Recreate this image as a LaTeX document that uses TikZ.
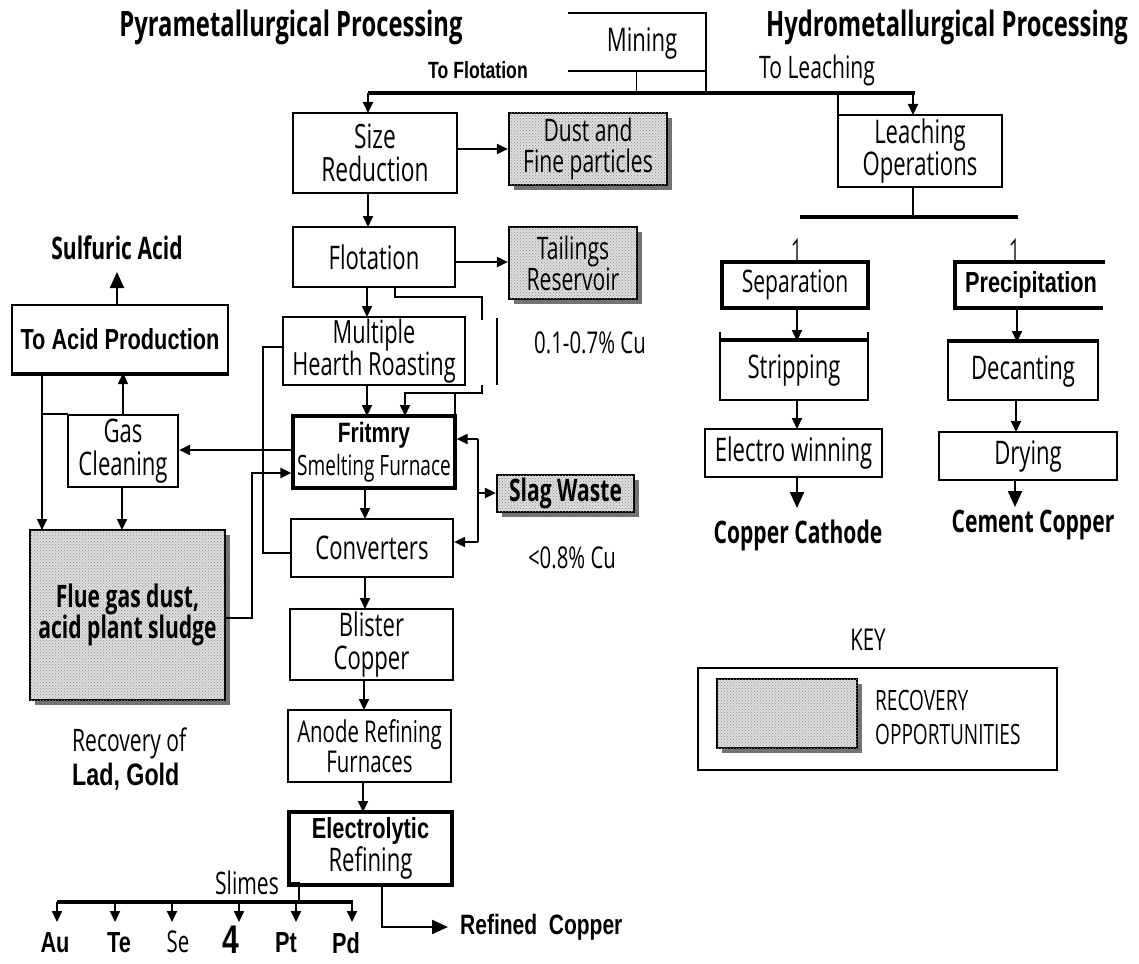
\documentclass[tikz,border=0pt]{standalone}
\usepackage{fontspec}
\setmainfont{Liberation Sans}
\newfontfamily\cm[FakeStretch=0.68]{Open Sans}
\newfontfamily\ar[FakeStretch=0.75]{Liberation Sans}
\usetikzlibrary{arrows.meta,shadows,patterns}
\newcommand{\fs}[1]{\fontsize{#1}{#1}\selectfont}
\tikzset{
  box/.style={draw, line width=2.2pt, inner sep=0pt, align=center, font=\cm\fs{32.5}},
  thickbox/.style={box, line width=3.2pt},
  shaded/.style={box, fill=black!13, postaction={pattern=crosshatch dots, pattern color=black!45},
    drop shadow={shadow xshift=5pt, shadow yshift=-5pt, fill=black!55, opacity=1}},
  arr/.style={line width=2pt, -{Triangle[length=11pt,width=10pt]}},
  bigarr/.style={line width=2.2pt, -{Triangle[length=16pt,width=14pt]}},
  ln/.style={line width=2pt},
  bus/.style={line width=4pt},
  lbl/.style={inner sep=0pt, align=center},
}
\begin{document}
\begin{tikzpicture}[x=1pt,y=-1pt]
\useasboundingbox (0,0) rectangle (1139,963);
% titles
\node[lbl, font=\cm\bfseries\fs{35}] (t1) at (291,27) {Pyrametallurgical Processing};
\node[lbl, font=\cm\bfseries\fs{35}] (t2) at (947,27) {Hydrometallurgical Processing};
% mining
\node[lbl, font=\cm\fs{32.5}] (mining) at (642,43) {Mining};
\draw[line width=2.8pt] (568,13) -- (706,13) -- (706,95);
\draw[line width=2.8pt] (568,71) -- (706,71);
\draw[line width=1pt] (636,71) -- (636,93);
\node[lbl, font=\ar\bfseries\fs{23.5}] (toflot) at (478,70) {To Flotation};
\node[lbl, font=\cm\fs{31}] (toleach) at (817,70) {To Leaching};
\draw[bus] (368,93) -- (915,93);
% pyro boxes
\node[box, minimum width=164pt, minimum height=80pt, font=\cm\fs{33.5}] (sizered) at (375,153) {Size\\Reduction};
\node[shaded, minimum width=158pt, minimum height=72pt, font=\cm\fs{31}] (dust) at (588,149) {Dust and\\Fine particles};
\node[box, minimum width=162pt, minimum height=60pt] (flot) at (374,257) {Flotation};
\node[shaded, minimum width=128pt, minimum height=72pt, font=\cm\fs{31}] (tail) at (573,263) {Tailings\\Reservoir};
\node[box, minimum width=182pt, minimum height=68pt, font=\cm\fs{32}] (mhr) at (374,351) {Multiple\\Hearth Roasting};
\node[thickbox, minimum width=162pt, minimum height=72pt] (frit) at (374,452) {{\ar\bfseries\fs{28}Fritmry}\\[1pt]{\cm\fs{28}Smelting Furnace}};
\node[box, minimum width=110pt, minimum height=72pt, font=\cm\fs{32.5}] (gas) at (123,451) {Gas\\Cleaning};
\node[box, minimum width=216pt, minimum height=68pt, font=\ar\bfseries\fs{29}] (acid) at (120,339) {To Acid Production};
\draw[line width=4pt] (acid.south west) -- (acid.south east);
\node[shaded, minimum width=195pt, minimum height=170pt, font=\cm\bfseries\fs{31}] (flue) at (127.5,615) {Flue gas dust,\\acid plant sludge};
\node[shaded, minimum width=137pt, minimum height=37pt, font=\cm\bfseries\fs{31}] (slag) at (565.5,493.5) {Slag Waste};
\node[box, minimum width=162pt, minimum height=58pt] (conv) at (372,548) {Converters};
\node[box, minimum width=163pt, minimum height=71pt, font=\cm\fs{32.5}] (blister) at (371.5,644.5) {Blister\\Copper};
\node[box, minimum width=163pt, minimum height=72pt, font=\cm\fs{30}] (anode) at (369.5,746) {Anode Refining\\Furnaces};
\node[thickbox, minimum width=163pt, minimum height=73pt] (elec) at (370.5,848.5) {{\ar\bfseries\fs{29}Electrolytic}\\[1pt]{\cm\fs{32.5}Refining}};
% side labels
\node[lbl, font=\cm\bfseries\fs{31}] (sulf) at (117,248) {Sulfuric Acid};
\node[lbl, font=\cm\fs{30}] (cu1) at (590,343) {0.1-0.7\% Cu};
\node[lbl, font=\cm\fs{30}] (cu2) at (572,558) {<0.8\% Cu};
\node[lbl, font=\cm\fs{31}, anchor=west] (recov) at (72,743) {Recovery of};
\node[lbl, font=\ar\bfseries\fs{31}, anchor=west] (lad) at (72,777) {Lad, Gold};
\node[lbl, font=\cm\fs{31}] (slimes) at (247,883) {Slimes};
\node[lbl, font=\ar\bfseries\fs{28}, anchor=west] (refcu) at (460,927) {Refined\ \ Copper};
\node[lbl, font=\ar\bfseries\fs{29}] (au) at (55,943) {Au};
\node[lbl, font=\ar\bfseries\fs{29}] (te) at (119,943) {Te};
\node[lbl, font=\cm\fs{30}] (se) at (178,942) {Se};
\node[lbl, font=\ar\bfseries\fs{40}] (four) at (231,940) {4};
\node[lbl, font=\ar\bfseries\fs{29}] (pt) at (286,943) {Pt};
\node[lbl, font=\ar\bfseries\fs{29}] (pd) at (346,943) {Pd};
% pyro connectors
\draw[arr] (368,93) -- (368,113);
\draw[arr] (sizered.east |- 0,149) -- (dust.west |- 0,149);
\draw[arr] (368,193) -- (368,227);
\draw[arr] (flot.east |- 0,262) -- (tail.west |- 0,262);
\draw[arr] (367,287) -- (367,317);
\draw[ln] (395,287) -- (395,297) -- (482,297) -- (482,320);
\draw[line width=2.8pt] (497,318) -- (497,385);
\draw[ln] (455,393) -- (455,416);
\draw[arr] (482,385) -- (482,393) -- (405,393) -- (405,416);
\draw[arr] (367,385) -- (367,416);
\draw[ln] (mhr.west |- 0,347) -- (263,347) -- (263,553) -- (conv.west |- 0,553);
\draw[arr] (frit.west |- 0,450) -- (gas.east |- 0,450);
\draw[line width=1.2pt, -{Triangle[length=11pt,width=10pt]}] (123,415) -- (123,373);
\draw[bigarr] (117,305) -- (117,272);
\draw[arr] (42,373) -- (42,530);
\draw[ln] (42,414) -- (68,414);
\draw[arr] (122,487) -- (122,530);
\draw[arr] (flue.east |- 0,618) -- (252,618) -- (252,473) -- (frit.west |- 0,473);
\draw[arr] (365,488) -- (365,519);
\draw[arr] (478,439) -- (frit.east |- 0,439);
\draw[ln] (478,439) -- (478,542);
\draw[arr] (478,542) -- (conv.east |- 0,542);
\draw[arr] (478,493) -- (slag.west |- 0,493);
\draw[arr] (365,577) -- (365,609);
\draw[arr] (364,680) -- (364,710);
\draw[arr] (363,782) -- (363,812);
\draw[ln] (290,873) -- (290,883) -- (299,883) -- (299,902);
\draw[bus] (57,902) -- (353,902);
\foreach \xx in {57,115,172,239,296,352} \draw[arr] (\xx,902) -- (\xx,922);
\draw[bigarr, shorten >=12pt] (382,885) -- (382,927) -- (refcu.west);
% hydro
\node[box, minimum width=164pt, minimum height=72pt] (leach) at (920,151) {Leaching\\Operations};
\draw[ln] (838,93) -- (838,115);
\draw[arr] (913,93) -- (913,115);
\draw[ln] (913,187) -- (913,217);
\draw[line width=3.5pt] (800,217) -- (1018,217);
\draw[line width=1.4pt] (797,262) -- (797,240) -- (793,245);
\draw[line width=1.4pt] (1015,262) -- (1015,240) -- (1011,245);
\node[thickbox, minimum width=146pt, minimum height=46pt, font=\cm\fs{31}] (sep) at (795,285) {Separation};
\node[lbl, font=\ar\bfseries\fs{29}] (precip) at (1031,285) {Precipitation};
\draw[line width=3.2pt] (1105,262) -- (955,262) -- (955,308) -- (1103,308);
\node[box, minimum width=148pt, minimum height=59pt] (strip) at (794,370.5) {Stripping};
\draw[line width=4pt] (strip.north west) -- (strip.north east);
\draw[ln] (720,332) -- (720,345);
\draw[ln] (868,332) -- (868,345);
\node[box, minimum width=177pt, minimum height=48pt] (electro) at (793.5,453) {Electro winning};
\node[box, minimum width=150pt, minimum height=58pt] (decant) at (1023,371) {Decanting};
\draw[line width=4pt] (decant.north west) -- (decant.north east);
\node[box, minimum width=178pt, minimum height=48pt] (drying) at (1028,456) {Drying};
\node[lbl, font=\cm\bfseries\fs{31}] (cathode) at (798,535) {Copper Cathode};
\node[lbl, font=\cm\bfseries\fs{31}] (cement) at (1033,525) {Cement Copper};
\draw[arr] (797,308) -- (797,341);
\draw[arr] (797,400) -- (797,429);
\draw[bigarr] (797,477) -- (797,508);
\draw[arr] (1017,308) -- (1017,342);
\draw[arr] (1016,400) -- (1016,432);
\draw[bigarr] (1015,480) -- (1015,507);
% key
\node[lbl, font=\cm\fs{30}] (key) at (868,640) {KEY};
\node[box, minimum width=359pt, minimum height=102pt] (keybox) at (877.5,719) {};
\node[shaded, minimum width=140pt, minimum height=69pt] (keysh) at (787,713.5) {};
\node[lbl, font=\cm\fs{28}, anchor=west, align=left] (keytxt) at (875,717) {RECOVERY\\[6pt]OPPORTUNITIES};
\end{tikzpicture}
\end{document}
